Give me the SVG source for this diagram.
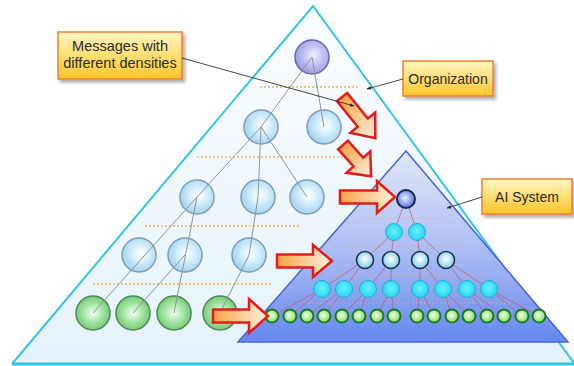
<svg xmlns="http://www.w3.org/2000/svg" width="574" height="366" viewBox="0 0 574 366">
<defs>
<linearGradient id="gBg" x1="0" y1="0" x2="0" y2="1"><stop offset="0" stop-color="#fbfdff"/><stop offset="1" stop-color="#e5f2fb"/></linearGradient>
<linearGradient id="gAi" gradientUnits="userSpaceOnUse" x1="0" y1="151" x2="0" y2="342"><stop offset="0" stop-color="#e2e8f8"/><stop offset="0.5" stop-color="#aebff3"/><stop offset="1" stop-color="#6688ee"/></linearGradient>
<radialGradient id="gBlue" cx="0.55" cy="0.45" r="0.6"><stop offset="0" stop-color="#ffffff"/><stop offset="0.45" stop-color="#d2edfb"/><stop offset="1" stop-color="#9ccfee"/></radialGradient>
<radialGradient id="gPurple" cx="0.55" cy="0.45" r="0.6"><stop offset="0" stop-color="#f0f0ff"/><stop offset="0.45" stop-color="#c4c4f4"/><stop offset="1" stop-color="#9494e0"/></radialGradient>
<radialGradient id="gGreen" cx="0.5" cy="0.5" r="0.6"><stop offset="0" stop-color="#f2fff2"/><stop offset="0.45" stop-color="#a8e6a8"/><stop offset="1" stop-color="#5fbf62"/></radialGradient>
<radialGradient id="gAiTop" cx="0.45" cy="0.45" r="0.6"><stop offset="0" stop-color="#e6f0ff"/><stop offset="1" stop-color="#4a68dc"/></radialGradient>
<radialGradient id="gCyan" cx="0.5" cy="0.45" r="0.6"><stop offset="0" stop-color="#6cf0ff"/><stop offset="1" stop-color="#1ed2f0"/></radialGradient>
<radialGradient id="gRow3" cx="0.5" cy="0.45" r="0.6"><stop offset="0" stop-color="#ffffff"/><stop offset="1" stop-color="#72c6ea"/></radialGradient>
<radialGradient id="gAiGreen" cx="0.45" cy="0.45" r="0.6"><stop offset="0" stop-color="#effff0"/><stop offset="1" stop-color="#7ed84a"/></radialGradient>
<linearGradient id="gLabel" x1="0" y1="0" x2="0" y2="1"><stop offset="0" stop-color="#fff7c4"/><stop offset="1" stop-color="#ffc526"/></linearGradient>
<linearGradient id="gArrow" x1="0" y1="0" x2="1" y2="0"><stop offset="0" stop-color="#f7a246"/><stop offset="1" stop-color="#fff2de"/></linearGradient>
<filter id="shadow" x="-20%" y="-20%" width="140%" height="150%"><feDropShadow dx="2.5" dy="3" stdDeviation="1.5" flood-color="#000" flood-opacity="0.3"/></filter>
<marker id="ptr" viewBox="0 0 10 10" refX="9" refY="5" markerWidth="5" markerHeight="5" orient="auto"><path d="M0,1 L10,5 L0,9 Z" fill="#222"/></marker>
</defs>
<style>
.orgdash{stroke:#f0b54a;stroke-width:1.3;stroke-dasharray:2,2;fill:none}
.aidash{stroke:#e4a58a;stroke-width:1.2;stroke-dasharray:2,2;fill:none;opacity:0.8}
.orgline{stroke:#8e959c;stroke-width:1;fill:none}
.ailine{stroke:#cc4a6e;stroke-width:0.9;fill:none;opacity:0.75}
.blue{fill:url(#gBlue);stroke:#7e9fb6;stroke-width:1.5}
.purple{fill:url(#gPurple);stroke:#6a6aa6;stroke-width:1.5}
.green{fill:url(#gGreen);stroke:#4f8a55;stroke-width:1.5}
.aitop{fill:url(#gAiTop);stroke:#16254f;stroke-width:2}
.cyan{fill:url(#gCyan);stroke:#26aecb;stroke-width:1}
.row3{fill:url(#gRow3);stroke:#1c3550;stroke-width:1.6}
.aigreen{fill:url(#gAiGreen);stroke:#1a7a2c;stroke-width:2}
.arrow{fill:url(#gArrow);stroke:#e21c1c;stroke-width:2.5;stroke-linejoin:miter}
.box{fill:url(#gLabel);stroke:#ef7d2e;stroke-width:1.5;filter:url(#shadow)}
.lbl{font-family:"Liberation Sans",Arial,sans-serif;font-size:14px;fill:#2a2a2a;text-anchor:middle}
.pointer{stroke:#333;stroke-width:0.9;fill:none;marker-end:url(#ptr)}
</style>

<g id="organization">
<polygon points="313,6 12,364 574,364" fill="url(#gBg)"/>
<polyline points="12,364 313,6 574,363" fill="none" stroke="#33c4e2" stroke-width="2"/>
<line x1="12" y1="364" x2="574" y2="364" stroke="#33c4e2" stroke-width="3"/>
<line class="orgdash" x1="260" y1="87" x2="358" y2="87"/>
<line class="orgdash" x1="197" y1="157" x2="342" y2="157"/>
<line class="orgdash" x1="145" y1="226" x2="300" y2="226"/>
<line class="orgdash" x1="93" y1="284" x2="272" y2="284"/>
</g>

<g id="org-top"><circle class="purple" cx="312" cy="57" r="17"/></g>
<g id="org-r2-1"><circle class="blue" cx="261" cy="127" r="17"/></g>
<g id="org-r2-2"><circle class="blue" cx="324" cy="127" r="17"/></g>
<g id="org-r3-1"><circle class="blue" cx="197" cy="197" r="17"/></g>
<g id="org-r3-2"><circle class="blue" cx="258" cy="197" r="17"/></g>
<g id="org-r3-3"><circle class="blue" cx="307" cy="197" r="17"/></g>
<g id="org-r4-1"><circle class="blue" cx="139" cy="255" r="17"/></g>
<g id="org-r4-2"><circle class="blue" cx="185" cy="255" r="17"/></g>
<g id="org-r4-3"><circle class="blue" cx="249" cy="255" r="17"/></g>
<g id="org-g1"><circle class="green" cx="93" cy="313" r="17"/></g>
<g id="org-g2"><circle class="green" cx="133" cy="313" r="17"/></g>
<g id="org-g3"><circle class="green" cx="174" cy="313" r="17"/></g>
<g id="org-g4"><circle class="green" cx="220" cy="313" r="17"/></g>

<g id="connectors-org">
<line class="orgline" x1="312" y1="57" x2="261" y2="127"/>
<line class="orgline" x1="312" y1="57" x2="324" y2="127"/>
<line class="orgline" x1="261" y1="127" x2="197" y2="197"/>
<line class="orgline" x1="261" y1="127" x2="258" y2="197"/>
<line class="orgline" x1="261" y1="127" x2="307" y2="197"/>
<line class="orgline" x1="197" y1="197" x2="93" y2="313"/>
<line class="orgline" x1="197" y1="197" x2="174" y2="313"/>
<line class="orgline" x1="185" y1="255" x2="133" y2="313"/>
<line class="orgline" x1="258" y1="197" x2="249" y2="255"/>
<line class="orgline" x1="249" y1="255" x2="220" y2="313"/>
</g>

<g id="ai-system">
<polygon points="406,151 238,342 568,342" fill="url(#gAi)" stroke="#4a63d8" stroke-width="1.5"/>
<line class="aidash" x1="365" y1="218" x2="443" y2="218"/>
<line class="aidash" x1="342" y1="246" x2="463" y2="246"/>
<line class="aidash" x1="327" y1="275" x2="487" y2="275"/>
<line class="aidash" x1="300" y1="303" x2="512" y2="303"/>
</g>

<g id="connectors-ai">
<line class="ailine" x1="406" y1="199" x2="394" y2="232"/>
<line class="ailine" x1="406" y1="199" x2="417" y2="232"/>
<line class="ailine" x1="394" y1="232" x2="365" y2="260"/>
<line class="ailine" x1="394" y1="232" x2="391" y2="260"/>
<line class="ailine" x1="417" y1="232" x2="420" y2="260"/>
<line class="ailine" x1="417" y1="232" x2="446" y2="260"/>
<line class="ailine" x1="365" y1="260" x2="322" y2="289"/>
<line class="ailine" x1="365" y1="260" x2="344" y2="289"/>
<line class="ailine" x1="391" y1="260" x2="368" y2="289"/>
<line class="ailine" x1="391" y1="260" x2="391" y2="289"/>
<line class="ailine" x1="420" y1="260" x2="420" y2="289"/>
<line class="ailine" x1="420" y1="260" x2="443" y2="289"/>
<line class="ailine" x1="446" y1="260" x2="467" y2="289"/>
<line class="ailine" x1="446" y1="260" x2="489" y2="289"/>
<line class="ailine" x1="322" y1="289" x2="272" y2="316"/>
<line class="ailine" x1="322" y1="289" x2="290" y2="316"/>
<line class="ailine" x1="344" y1="289" x2="307" y2="316"/>
<line class="ailine" x1="344" y1="289" x2="324" y2="316"/>
<line class="ailine" x1="368" y1="289" x2="342" y2="316"/>
<line class="ailine" x1="368" y1="289" x2="359" y2="316"/>
<line class="ailine" x1="391" y1="289" x2="377" y2="316"/>
<line class="ailine" x1="391" y1="289" x2="394" y2="316"/>
<line class="ailine" x1="420" y1="289" x2="417" y2="316"/>
<line class="ailine" x1="420" y1="289" x2="434" y2="316"/>
<line class="ailine" x1="443" y1="289" x2="452" y2="316"/>
<line class="ailine" x1="443" y1="289" x2="469" y2="316"/>
<line class="ailine" x1="467" y1="289" x2="487" y2="316"/>
<line class="ailine" x1="467" y1="289" x2="504" y2="316"/>
<line class="ailine" x1="489" y1="289" x2="522" y2="316"/>
<line class="ailine" x1="489" y1="289" x2="539" y2="316"/>
</g>

<g id="ai-top"><circle class="aitop" cx="406" cy="199" r="9"/></g>
<g id="ai-r2-1"><circle class="cyan" cx="394" cy="232" r="8.5"/></g>
<g id="ai-r2-2"><circle class="cyan" cx="417" cy="232" r="8.5"/></g>
<g id="ai-r3-1"><circle class="row3" cx="365" cy="260" r="8.5"/></g>
<g id="ai-r3-2"><circle class="row3" cx="391" cy="260" r="8.5"/></g>
<g id="ai-r3-3"><circle class="row3" cx="420" cy="260" r="8.5"/></g>
<g id="ai-r3-4"><circle class="row3" cx="446" cy="260" r="8.5"/></g>
<g id="ai-r4-1"><circle class="cyan" cx="322" cy="289" r="8.5"/></g>
<g id="ai-r4-2"><circle class="cyan" cx="344" cy="289" r="8.5"/></g>
<g id="ai-r4-3"><circle class="cyan" cx="368" cy="289" r="8.5"/></g>
<g id="ai-r4-4"><circle class="cyan" cx="391" cy="289" r="8.5"/></g>
<g id="ai-r4-5"><circle class="cyan" cx="420" cy="289" r="8.5"/></g>
<g id="ai-r4-6"><circle class="cyan" cx="443" cy="289" r="8.5"/></g>
<g id="ai-r4-7"><circle class="cyan" cx="467" cy="289" r="8.5"/></g>
<g id="ai-r4-8"><circle class="cyan" cx="489" cy="289" r="8.5"/></g>
<g id="ai-g1"><circle class="aigreen" cx="272" cy="316" r="6.5"/></g>
<g id="ai-g2"><circle class="aigreen" cx="290" cy="316" r="6.5"/></g>
<g id="ai-g3"><circle class="aigreen" cx="307" cy="316" r="6.5"/></g>
<g id="ai-g4"><circle class="aigreen" cx="324" cy="316" r="6.5"/></g>
<g id="ai-g5"><circle class="aigreen" cx="342" cy="316" r="6.5"/></g>
<g id="ai-g6"><circle class="aigreen" cx="359" cy="316" r="6.5"/></g>
<g id="ai-g7"><circle class="aigreen" cx="377" cy="316" r="6.5"/></g>
<g id="ai-g8"><circle class="aigreen" cx="394" cy="316" r="6.5"/></g>
<g id="ai-g9"><circle class="aigreen" cx="417" cy="316" r="6.5"/></g>
<g id="ai-g10"><circle class="aigreen" cx="434" cy="316" r="6.5"/></g>
<g id="ai-g11"><circle class="aigreen" cx="452" cy="316" r="6.5"/></g>
<g id="ai-g12"><circle class="aigreen" cx="469" cy="316" r="6.5"/></g>
<g id="ai-g13"><circle class="aigreen" cx="487" cy="316" r="6.5"/></g>
<g id="ai-g14"><circle class="aigreen" cx="504" cy="316" r="6.5"/></g>
<g id="ai-g15"><circle class="aigreen" cx="522" cy="316" r="6.5"/></g>
<g id="ai-g16"><circle class="aigreen" cx="539" cy="316" r="6.5"/></g>

<g id="transfer-arrows">
<path class="arrow" transform="translate(342,97) rotate(51)" d="M0,-6.5 H33 V-16 L53,0 L33,16 V6.5 H0 Z"/>
<path class="arrow" transform="translate(343,145) rotate(48)" d="M0,-6.5 H23 V-16 L42,0 L23,16 V6.5 H0 Z"/>
<path class="arrow" transform="translate(340,197)" d="M0,-6.5 H37 V-16 L55,0 L37,16 V6.5 H0 Z"/>
<path class="arrow" transform="translate(277,261)" d="M0,-6.5 H36 V-16 L55,0 L36,16 V6.5 H0 Z"/>
<path class="arrow" transform="translate(213,316)" d="M0,-6.5 H36 V-17 L55,0 L36,17 V6.5 H0 Z"/>
</g>

<g id="label-messages">
<rect class="box" x="58" y="32" width="124" height="47"/>
<text class="lbl" x="120" y="51" style="font-size:14.5px">Messages with</text>
<text class="lbl" x="120" y="68" style="font-size:14.5px">different densities</text>
<line class="pointer" x1="182" y1="58" x2="354" y2="106"/>
</g>
<g id="label-organization">
<rect class="box" x="403" y="61" width="90" height="35"/>
<text class="lbl" x="448" y="84">Organization</text>
<line class="pointer" x1="403" y1="79" x2="367" y2="89"/>
</g>
<g id="label-ai">
<rect class="box" x="482" y="179" width="90" height="35"/>
<text class="lbl" x="527" y="202">AI System</text>
<line class="pointer" x1="482" y1="197" x2="447" y2="208"/>
</g>
</svg>
